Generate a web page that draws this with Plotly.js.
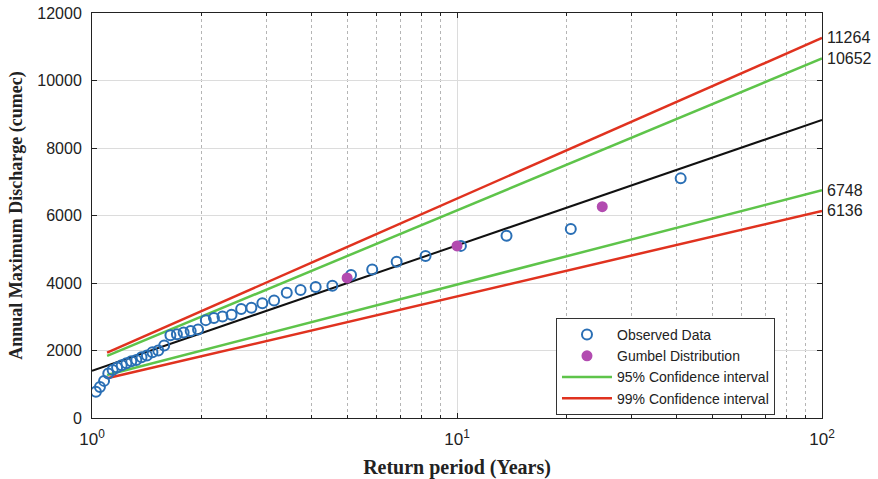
<!DOCTYPE html>
<html><head><meta charset="utf-8">
<script src="https://cdn.plot.ly/plotly-3.0.1.min.js"></script>
<style>html,body{margin:0;padding:0;background:#fff}</style>
</head><body>
<div id="chart" style="width:878px;height:479px"></div>
<script>
// Observed data: Weibull return periods T = 41/m, m = 1..40
const obsT = [41/1,41/2,41/3,41/4,41/5,41/6,41/7,41/8,41/9,41/10,41/11,41/12,41/13,41/14,41/15,41/16,41/17,41/18,41/19,41/20,41/21,41/22,41/23,41/24,41/25,41/26,41/27,41/28,41/29,41/30,41/31,41/32,41/33,41/34,41/35,41/36,41/37,41/38,41/39,41/40];
const obsQ = [7100,5600,5400,5100,4800,4630,4400,4240,3920,3880,3790,3710,3480,3400,3270,3230,3060,3010,2960,2900,2620,2580,2530,2480,2450,2150,2000,1950,1850,1800,1720,1680,1620,1560,1500,1420,1320,1100,920,780];
// Gumbel distribution points
const gumT = [5, 10, 25];
const gumQ = [4150, 5100, 6260];
// Fitted Gumbel line
const fitT = [1, 100];
const fitQ = [1400, 8830];
// Confidence intervals
const ciT = [1.1, 100];
const ci95Up = [1840, 10652];
const ci95Lo = [1275, 6748];
const ci99Up = [1935, 11264];
const ci99Lo = [1175, 6136];
const endLabels = ['11264', '10652', '6748', '6136'];
const endValues = [11264, 10652, 6748, 6136];
const yTicks = [0, 2000, 4000, 6000, 8000, 10000, 12000];
const yTickText = ['0', '2000', '4000', '6000', '8000', '10000', '12000'];

const blue = '#2a6fb5', purple = '#b24bb0', green = '#5ec44a', red = '#e0321f';

const traces = [
  {x: fitT, y: fitQ, mode: 'lines', line: {color: '#111', width: 2}, showlegend: false, hoverinfo: 'skip'},
  {x: ciT, y: ci95Up, mode: 'lines', line: {color: green, width: 2.5}, showlegend: false},
  {x: ciT, y: ci99Up, mode: 'lines', line: {color: red, width: 2.5}, showlegend: false},
  {x: ciT, y: ci95Lo, mode: 'lines', line: {color: green, width: 2.5}, showlegend: false},
  {x: ciT, y: ci99Lo, mode: 'lines', line: {color: red, width: 2.5}, showlegend: false},
  {x: obsT, y: obsQ, mode: 'markers', name: 'Observed Data',
   marker: {symbol: 'circle-open', size: 10, color: blue, line: {width: 2, color: blue}}},
  {x: gumT, y: gumQ, mode: 'markers', name: 'Gumbel Distribution',
   marker: {symbol: 'circle', size: 11, color: purple}},
  {x: [null], y: [null], mode: 'lines', name: '95% Confidence interval', line: {color: green, width: 2.5}},
  {x: [null], y: [null], mode: 'lines', name: '99% Confidence interval', line: {color: red, width: 2.5}}
];

const annotations = endLabels.map((t, i) => ({
  xref: 'paper', x: 1, xanchor: 'left', xshift: 3,
  yref: 'y', y: endValues[i], yanchor: 'middle',
  text: t, showarrow: false,
  font: {family: 'Liberation Sans, Arial, sans-serif', size: 16, color: '#222'}
}));

const layout = {
  width: 878, height: 479,
  margin: {l: 92, r: 56, t: 13, b: 61},
  paper_bgcolor: '#fff', plot_bgcolor: '#fff',
  font: {family: 'Liberation Sans, Arial, sans-serif', size: 16, color: '#222'},
  xaxis: {
    type: 'log', range: [0, 2],
    tickvals: [1, 10, 100], ticktext: ['10<sup>0</sup>', '10<sup>1</sup>', '10<sup>2</sup>'],
    showgrid: true, gridcolor: '#dcdcdc', gridwidth: 1,
    showline: true, linecolor: '#222', linewidth: 1, mirror: 'ticks',
    ticks: 'inside', ticklen: 5, tickcolor: '#222',
    minor: {dtick: 'D1', showgrid: true, gridcolor: '#b5b5b5', griddash: 'dot', ticks: 'inside', ticklen: 3, tickcolor: '#222'},
    zeroline: false,
    ticklabelstandoff: 6,
    tickfont: {size: 17},
    title: {text: 'Return period (Years)', standoff: 11,
      font: {family: 'Liberation Serif, Times New Roman, serif', size: 20, color: '#222', weight: 'bold'}}
  },
  yaxis: {
    range: [0, 12000], tickvals: yTicks, ticktext: yTickText,
    showgrid: true, gridcolor: '#dcdcdc', gridwidth: 1,
    showline: true, linecolor: '#222', linewidth: 1, mirror: 'ticks',
    ticks: 'inside', ticklen: 5, tickcolor: '#222',
    zeroline: false,
    ticklabelstandoff: 6,
    tickfont: {size: 16},
    title: {text: 'Annual Maximum Discharge (cumec)', standoff: 9,
      font: {family: 'Liberation Serif, Times New Roman, serif', size: 18, color: '#222', weight: 'bold'}}
  },
  legend: {
    x: 0.6356, y: 0.247, xanchor: 'left', yanchor: 'top',
    bgcolor: '#fff', bordercolor: '#333', borderwidth: 1,
    font: {family: 'Liberation Sans, Arial, sans-serif', size: 14, color: '#222'},
    itemwidth: 50, tracegroupgap: 0
  },
  annotations: annotations,
  showlegend: true
};

Plotly.newPlot('chart', traces, layout, {displayModeBar: false, staticPlot: true});
</script>
</body></html>
